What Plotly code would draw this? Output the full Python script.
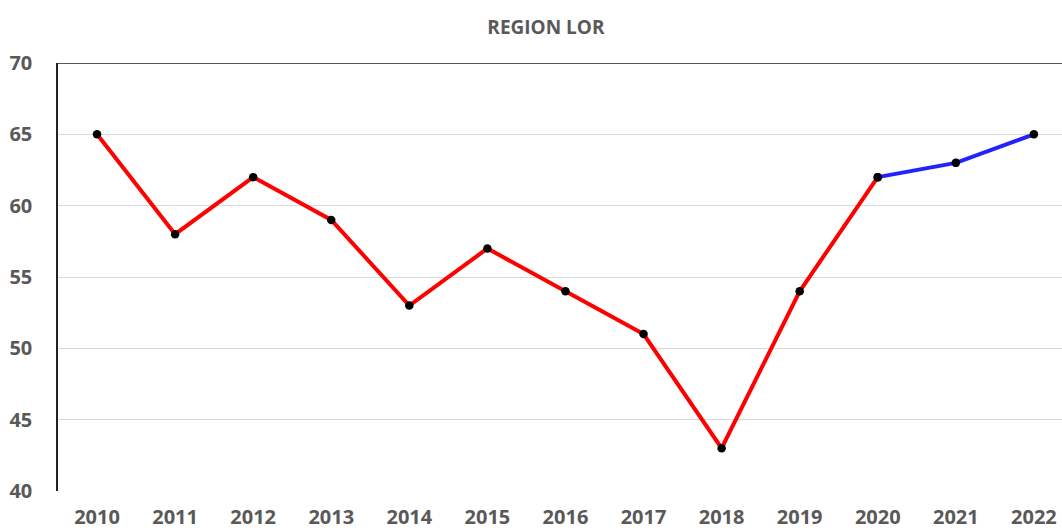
import plotly.graph_objects as go

years = ["2010", "2011", "2012", "2013", "2014", "2015", "2016", "2017", "2018", "2019", "2020", "2021", "2022"]
values = [65, 58, 62, 59, 53, 57, 54, 51, 43, 54, 62, 63, 65]
red_years = years[:11]
red_values = values[:11]
blue_years = years[10:]
blue_values = values[10:]
y_ticks = [40, 45, 50, 55, 60, 65, 70]

tick_font = dict(size=20, color="#595959", family="Open Sans", weight=700)

fig = go.Figure()
fig.add_trace(go.Scatter(x=red_years, y=red_values, mode="lines+markers",
                         line=dict(color="#FF0000", width=4),
                         marker=dict(color="black", size=8.5), showlegend=False))
fig.add_trace(go.Scatter(x=blue_years, y=blue_values, mode="lines+markers",
                         line=dict(color="#2222FF", width=4),
                         marker=dict(color="black", size=8.5), showlegend=False))

fig.add_shape(type="line", xref="paper", yref="y", x0=0, x1=1, y0=70, y1=70,
              line=dict(color="#222222", width=1.5))

fig.update_layout(
    width=1062, height=531,
    margin=dict(l=58, r=0, t=63, b=40),
    paper_bgcolor="white", plot_bgcolor="white",
    font=dict(family="Open Sans", color="#595959"),
    title=dict(text="REGION LOR", x=0.486, xref="paper", xanchor="center",
               y=0.948, yref="container", yanchor="middle",
               font=dict(size=19, color="#595959", family="Open Sans", weight=700)),
    xaxis=dict(type="category", range=[-0.5, 12.36], showgrid=False, showline=False,
               zeroline=False, tickfont=tick_font, ticklabelstandoff=12, automargin=False),
    yaxis=dict(range=[40, 70], tickvals=y_ticks, showgrid=True, gridcolor="#D9D9D9",
               gridwidth=1, showline=True, linecolor="#222222", linewidth=1.5,
               zeroline=False, tickfont=tick_font, ticklabelstandoff=20, automargin=False),
)

fig.write_html("out.html", config={"displayModeBar": False},
               post_script="document.body.style.margin='0px';")
